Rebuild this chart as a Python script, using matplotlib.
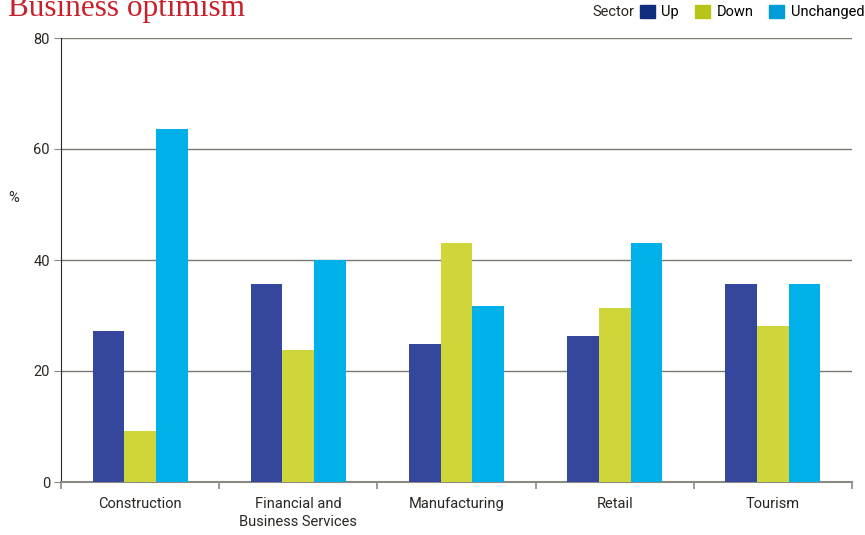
import matplotlib
matplotlib.use("Agg")
import matplotlib.pyplot as plt
from matplotlib.patches import Patch
import numpy as np

plt.rcParams['font.family'] = ['Roboto', 'DejaVu Sans']

sectors = ["Construction", "Financial and\nBusiness Services", "Manufacturing", "Retail", "Tourism"]
up = [27.2, 35.7, 24.9, 26.3, 35.7]
down = [9.2, 23.8, 43.1, 31.4, 28.1]
unchanged = [63.6, 40.0, 31.7, 43.1, 35.7]
series_names = ["Up", "Down", "Unchanged"]
bar_colors = ["#35479c", "#cfd63a", "#00b0e8"]
legend_colors = ["#0e2d7f", "#b9c41a", "#009dd9"]
yticks = [0, 20, 40, 60, 80]

txt = "#2b2622"
fs = 10.5

fig = plt.figure(figsize=(8.65, 5.35), dpi=100)
ax = fig.add_axes([61/865, 53/535, 791/865, 444/535])

x = np.arange(len(sectors))
w = 0.2
for i, vals in enumerate([up, down, unchanged]):
    ax.bar(x + (i - 1) * w, vals, w, color=bar_colors[i], zorder=3)

ax.set_xlim(-0.5, len(sectors) - 0.5)
ax.set_ylim(0, 80)
ax.set_yticks(yticks)
ax.set_yticklabels([str(v) for v in yticks])
ax.yaxis.grid(True, color="#7a7a72", linewidth=1, zorder=0)

ax.set_xticks(np.arange(len(sectors) + 1) - 0.5)
ax.set_xticklabels([])
ax.set_xticks(x, minor=True)
ax.set_xticklabels(sectors, minor=True, fontsize=fs, color=txt, linespacing=1.3)
ax.tick_params(axis="x", which="minor", length=0, pad=11)
ax.tick_params(axis="x", which="major", length=5, color="#8a8a82", width=1.2)
ax.tick_params(axis="y", length=5, color="#8a8a82", labelsize=fs, labelcolor=txt, pad=3)

for s in ["top", "right"]:
    ax.spines[s].set_visible(False)
ax.spines["left"].set_color(txt)
ax.spines["bottom"].set_color("#8a8a82")
ax.spines["bottom"].set_linewidth(1.5)

fig.text(8/865, 1 - 198/535, "%", fontsize=fs, color=txt, va="center")

fig.text(8/865, 1 - 16/535, "Business optimism", family="Liberation Serif",
         fontsize=22.5, color="#c8202a", va="baseline")

handles = [Patch(color=c) for c in legend_colors]
leg = fig.legend(handles, series_names, ncol=3, frameon=False, loc="center right",
                 bbox_to_anchor=(864/865, 1 - 12/535), handlelength=1.0, handleheight=1.0,
                 handletextpad=0.45, columnspacing=1.1, fontsize=fs, borderaxespad=0,
                 borderpad=0.0)

# put "Sector" just left of the legend
fig.canvas.draw()
bb = leg.get_window_extent()
fig.text((bb.x0 - 6) / 865, 1 - 12/535, "Sector", fontsize=fs, color=txt,
         va="center", ha="right")

fig.savefig("out.png", dpi=100)
